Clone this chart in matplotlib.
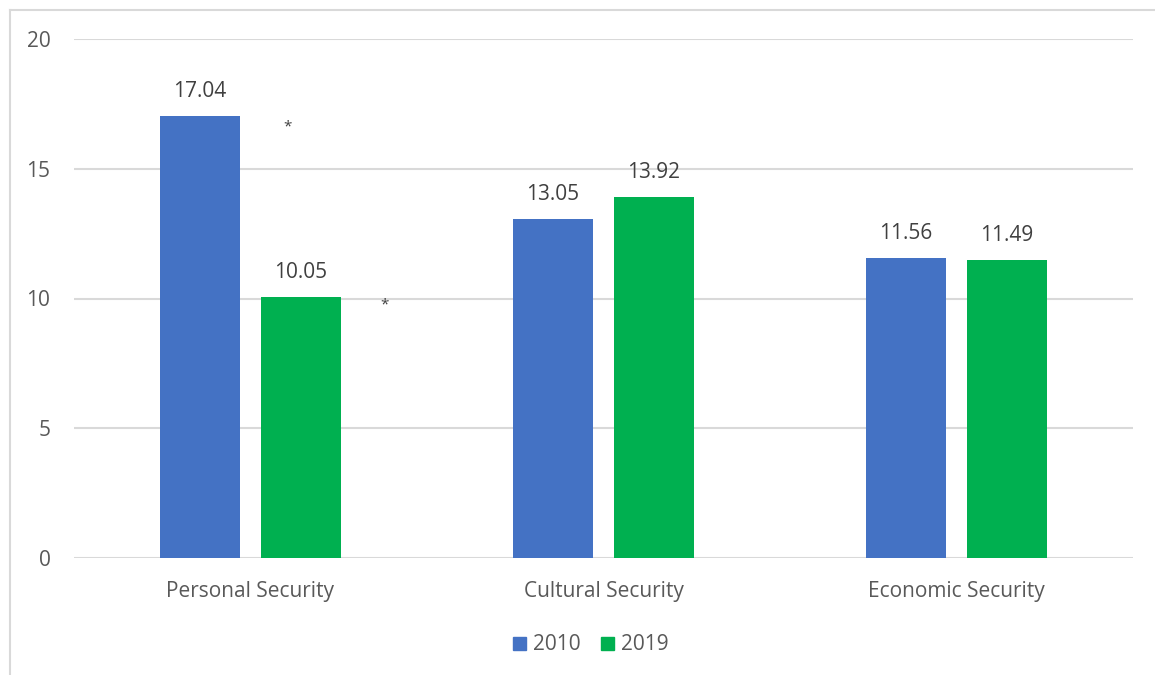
import numpy as np
import matplotlib.pyplot as plt
from matplotlib.lines import Line2D
from matplotlib.patches import Patch

# Dados
categorias = ['Personal Security', 'Cultural Security', 'Economic Security']
valores_2010 = [17.04, 13.05, 11.56]
valores_2019 = [10.05, 13.92, 11.49]
anos = ['2010', '2019']
yticks = [0, 5, 10, 15, 20]

cor_2010 = '#4472C4'
cor_2019 = '#00B050'
cor_texto = '#595959'
cor_grade = '#D9D9D9'

plt.rcParams['font.family'] = ['Open Sans', 'DejaVu Sans']

fig = plt.figure(figsize=(11.55, 6.75), dpi=100)
W, H = 1155, 675
ax = fig.add_axes([74 / W, 1 - 558 / H, (1133 - 74) / W, (558 - 39) / H])

x = np.arange(len(categorias))
largura = 80 / 353
desloc = (40 + 10.5) / 353

b1 = ax.bar(x - desloc, valores_2010, width=largura, color=cor_2010, zorder=3)
b2 = ax.bar(x + desloc, valores_2019, width=largura, color=cor_2019, zorder=3)

# Rotulos de valor
for barras, vals in [(b1, valores_2010), (b2, valores_2019)]:
    for barra, v in zip(barras, vals):
        ax.text(barra.get_x() + barra.get_width() / 2, v + 0.55, f'{v:.2f}',
                ha='center', va='bottom', fontsize=15, color='#404040')

# Asteriscos de significancia
ax.text(x[0] + 0.106, 16.6, '*', ha='center', va='center', fontsize=11, color='#404040')
ax.text(x[0] + 0.381, 9.75, '*', ha='center', va='center', fontsize=11, color='#404040')

ax.set_xlim(-0.5, 2.5)
ax.set_ylim(0, 20)
ax.set_yticks(yticks)
ax.set_yticklabels([str(t) for t in yticks])
ax.set_xticks(x)
ax.set_xticklabels(categorias)
ax.tick_params(axis='both', length=0, labelsize=15, colors=cor_texto)
ax.tick_params(axis='y', pad=17)
ax.tick_params(axis='x', pad=16.5)
ax.yaxis.grid(True, color=cor_grade, linewidth=1.5, zorder=0)
for s in ax.spines.values():
    s.set_visible(False)

# Legenda
handles = [Patch(color=cor_2010), Patch(color=cor_2019)]
fig.legend(handles, anos, loc='center', bbox_to_anchor=(591 / W, 1 - 645 / H),
           ncol=2, frameon=False, fontsize=15, labelcolor=cor_texto,
           handlelength=0.6, handleheight=0.6, handletextpad=0.35, columnspacing=1.0)

# Borda do grafico
fig.add_artist(Line2D([10 / W, 1], [1 - 9.5 / H] * 2, color=cor_grade, linewidth=1.5))
fig.add_artist(Line2D([10 / W] * 2, [0, 1 - 9.5 / H], color=cor_grade, linewidth=1.5))

fig.savefig('out.png', dpi=100, facecolor='white')
